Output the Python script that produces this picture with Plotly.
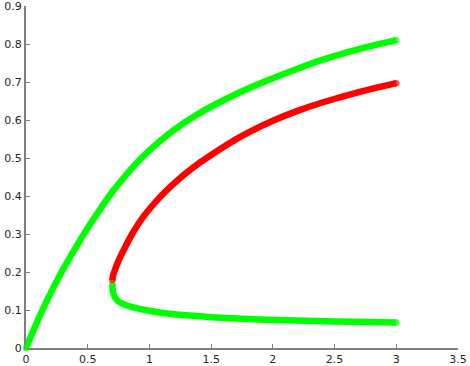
import plotly.graph_objects as go

# Upper stable branch (green)
upper_x = [0, 0.1, 0.2, 0.3, 0.4, 0.5, 0.6, 0.7, 0.8, 0.9, 1.0, 1.2, 1.4, 1.6, 1.8, 2.0, 2.2, 2.4, 2.6, 2.8, 3.0]
upper_y = [0, 0.076, 0.145, 0.207, 0.263, 0.316, 0.365, 0.411, 0.451, 0.488, 0.520, 0.574, 0.617, 0.652, 0.683, 0.710, 0.735, 0.758, 0.778, 0.795, 0.810]

# Unstable branch (red)
mid_x = [0.70, 0.705, 0.72, 0.75, 0.8, 0.86, 0.95, 1.08, 1.2, 1.3, 1.4, 1.5, 1.6, 1.7, 1.8, 2.0, 2.2, 2.4, 2.6, 2.8, 3.0]
mid_y = [0.178, 0.19, 0.205, 0.23, 0.263, 0.3, 0.345, 0.395, 0.433, 0.461, 0.486, 0.508, 0.529, 0.549, 0.567, 0.598, 0.624, 0.646, 0.665, 0.682, 0.697]

# Lower stable branch (green)
low_x = [0.70, 0.703, 0.712, 0.73, 0.76, 0.8, 0.87, 1.0, 1.14, 1.3, 1.5, 1.75, 2.0, 2.5, 3.0]
low_y = [0.168, 0.152, 0.140, 0.129, 0.120, 0.114, 0.107, 0.098, 0.091, 0.086, 0.081, 0.077, 0.074, 0.070, 0.067]

x_ticks = [0, 0.5, 1, 1.5, 2, 2.5, 3, 3.5]
y_ticks = [0, 0.1, 0.2, 0.3, 0.4, 0.5, 0.6, 0.7, 0.8, 0.9]

GREEN = "#00ff00"
RED = "#ff0000"
LW = 6.5

fig = go.Figure()
for xs, ys, c in [(upper_x, upper_y, GREEN), (low_x, low_y, GREEN), (mid_x, mid_y, RED)]:
    sizes = [0] * len(xs)
    sizes[0] = LW
    sizes[-1] = LW
    fig.add_trace(go.Scatter(
        x=xs, y=ys, mode="lines+markers",
        line=dict(color=c, width=LW, shape="spline", smoothing=0.8),
        marker=dict(color=c, size=sizes, line=dict(width=0)),
        cliponaxis=False, showlegend=False, hoverinfo="skip",
    ))

axis_common = dict(
    showgrid=False, zeroline=False, showline=True,
    linecolor="#7f7f7f", linewidth=2,
    ticks="inside", ticklen=4, tickwidth=1, tickcolor="#7f7f7f",
    tickfont=dict(family="DejaVu Sans", size=11, color="#262626"),
    layer="below traces", automargin=False,
    ticklabeloverflow="allow",
)

fig.update_layout(
    width=470, height=366,
    margin=dict(l=26, r=12, t=6, b=18),
    paper_bgcolor="white", plot_bgcolor="white",
    xaxis=dict(range=[0, 3.5], tickvals=x_ticks,
               ticktext=[f"{v:g}" for v in x_ticks], **axis_common),
    yaxis=dict(range=[0, 0.9], tickvals=y_ticks,
               ticktext=[f"{v:g}" for v in y_ticks], **axis_common),
)

fig.write_html("out.html")
